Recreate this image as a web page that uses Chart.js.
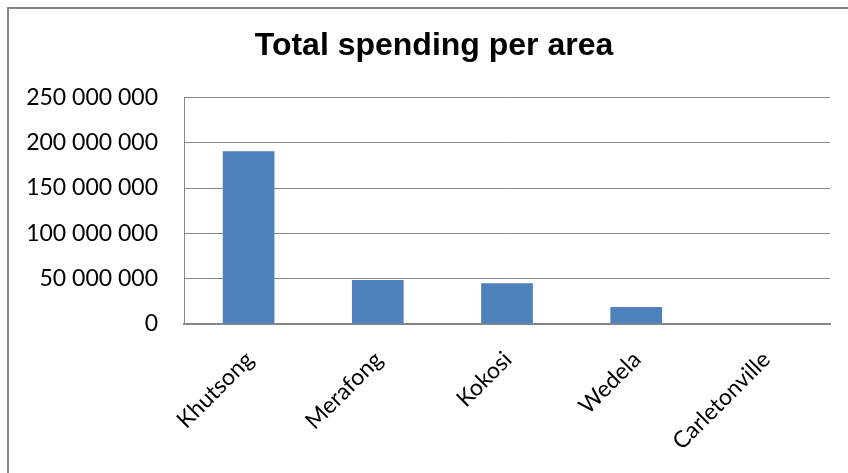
<!DOCTYPE html>
<html>
<head>
<meta charset="utf-8">
<script src="https://cdn.jsdelivr.net/npm/chart.js@4"></script>
<style>
  body { margin: 0; background: #fff; }
  #frame { position: absolute; left: 7px; top: 7px; width: 860px; height: 480px; border: 2px solid #878787; }
  #wrap { position: absolute; left: 0; top: 0; width: 848px; height: 473px; }
</style>
</head>
<body>
<div id="frame"></div>
<div id="wrap"><canvas id="chart"></canvas></div>
<script>
const areas = ["Khutsong", "Merafong", "Kokosi", "Wedela", "Carletonville"];
const spending = [190500000, 48500000, 45000000, 18700000, 0];

// format numbers as "250 000 000"
const fmt = v => String(v).replace(/\B(?=(\d{3})+(?!\d))/g, " ");

// the left padding (used to centre the title) would clip the y labels,
// so widen the y axis label area back to the canvas edge
const unclipY = {
  id: "unclipY",
  afterLayout(chart) { chart.scales.y.left = 0; }
};

const ctx = document.getElementById("chart").getContext("2d");
new Chart(ctx, {
  type: "bar",
  data: {
    labels: areas,
    datasets: [{
      label: "Total spending",
      data: spending,
      backgroundColor: "#4F81BD",
      categoryPercentage: 1,
      barPercentage: 0.4
    }]
  },
  options: {
    responsive: true,
    maintainAspectRatio: false,
    animation: false,
    layout: { padding: { left: 38, right: 18, top: 0, bottom: 0 } },
    scales: {
      x: {
        grid: { display: false },
        border: { color: "#868686", width: 2 },
        ticks: {
          color: "#000",
          font: { family: "Lato", size: 23 },
          maxRotation: 45,
          minRotation: 45,
          padding: 14,
          labelOffset: 1
        },
        afterFit: axis => { axis.height = 149; }
      },
      y: {
        min: 0,
        max: 250000000,
        grid: { color: "#868686", drawTicks: false },
        border: { color: "#868686", width: 1 },
        ticks: {
          stepSize: 50000000,
          color: "#000",
          padding: 26,
          font: { family: "Lato", size: 23 },
          callback: v => fmt(v)
        },
        afterFit: axis => { axis.width = 146; }
      }
    },
    plugins: {
      legend: { display: false },
      tooltip: { enabled: false },
      title: {
        display: true,
        text: "Total spending per area",
        color: "#000",
        font: { family: "Liberation Sans", size: 32, weight: "bold" },
        padding: { top: 27, bottom: 32 }
      }
    }
  },
  plugins: [unclipY]
});
</script>
</body>
</html>
